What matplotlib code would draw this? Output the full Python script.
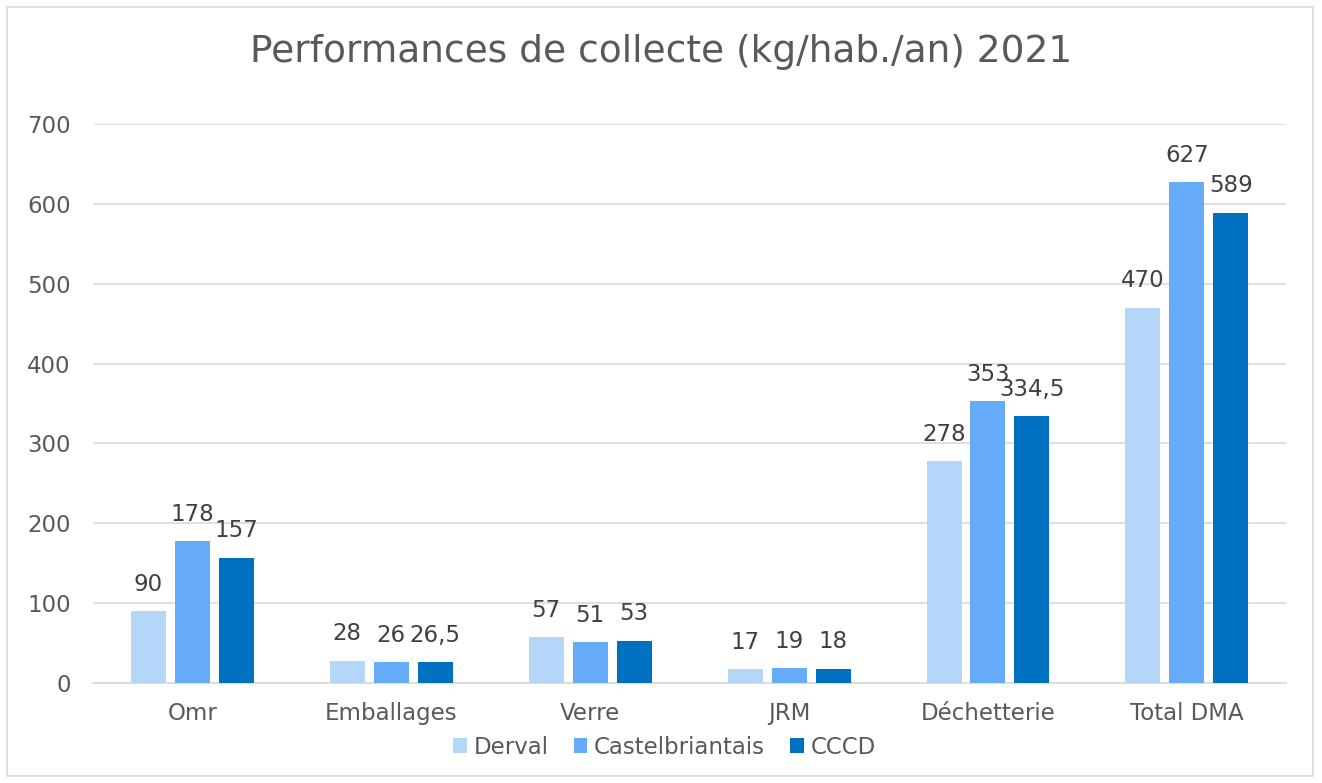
import matplotlib.pyplot as plt
import numpy as np
from matplotlib.patches import Rectangle

categories = ["Omr", "Emballages", "Verre", "JRM", "Déchetterie", "Total DMA"]
series = ["Derval", "Castelbriantais", "CCCD"]
derval = [90, 28, 57, 17, 278, 470]
castel = [178, 26, 51, 19, 353, 627]
cccd = [157, 26.5, 53, 18, 334.5, 589]
colors = ["#B4D6F8", "#66ABF7", "#0070C0"]

txt = "#595959"
fs = 16.5
plt.rcParams['font.family'] = ['DejaVu Sans']

fig = plt.figure(figsize=(13.22, 7.83), dpi=100)
ax = fig.add_axes([0.0703, 0.1277, 0.9027, 0.7139])

# outer chart border
fig.patches.append(Rectangle((7 / 1322, 7 / 783), 1306 / 1322, 769 / 783,
                             transform=fig.transFigure, fill=False,
                             edgecolor="#D9D9D9", linewidth=1.2))

x = np.arange(len(categories))
width = 0.176
step = 0.221

def fmt(v):
    s = f"{v:g}"
    return s.replace(".", ",")

for i, (name, vals) in enumerate(zip(series, [derval, castel, cccd])):
    bars = ax.bar(x + (i - 1) * step, vals, width, color=colors[i], label=name, zorder=3)
    for b, v in zip(bars, vals):
        ax.annotate(fmt(v), (b.get_x() + b.get_width() / 2, v), xytext=(0, 11),
                    textcoords="offset points", ha="center", va="bottom",
                    fontsize=fs, color="#404040")

ax.set_xlim(-0.5, len(categories) - 0.5)
ax.set_ylim(0, 700)
ax.set_yticks(range(0, 701, 100))
ax.set_xticks(x)
ax.set_xticklabels(categories)
ax.tick_params(axis="both", length=0, labelsize=fs, colors=txt)
ax.tick_params(axis="y", pad=16)
ax.tick_params(axis="x", pad=14)
ax.grid(axis="y", color="#D9D9D9", linewidth=1.2, zorder=0)
for s in ["top", "right", "left"]:
    ax.spines[s].set_visible(False)
ax.spines["bottom"].set_color("#D9D9D9")
ax.spines["bottom"].set_linewidth(1.2)

fig.text(0.5, 0.933, "Performances de collecte (kg/hab./an) 2021", ha="center", va="center",
         fontsize=27, color=txt)

ax.legend(loc="center", bbox_to_anchor=(0.479, -0.115), ncol=3, frameon=False,
          fontsize=fs, labelcolor=txt, handlelength=0.6, handleheight=0.6,
          handletextpad=0.3, columnspacing=1.1)

fig.savefig("out.png", dpi=100)
